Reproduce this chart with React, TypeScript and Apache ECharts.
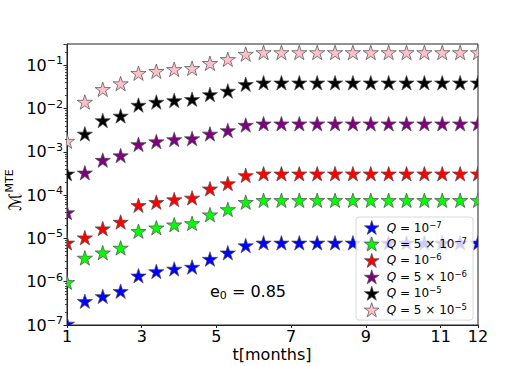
import React, { useEffect, useRef } from "react";
import * as echarts from "echarts";

// ---- data ----
const months = [
  1, 1.478, 1.957, 2.435, 2.913, 3.391, 3.87, 4.348, 4.826, 5.304, 5.783, 6.261,
  6.739, 7.217, 7.696, 8.174, 8.652, 9.13, 9.609, 10.087, 10.565, 11.043, 11.522, 12,
];

const q1e7 = [
  1.02e-7, 3.4e-7, 4.4e-7, 5.8e-7, 1.32e-6, 1.66e-6, 1.9e-6, 2.1e-6, 3.2e-6, 4.5e-6, 6.6e-6, 7.6e-6,
  7.6e-6, 7.6e-6, 7.6e-6, 7.6e-6, 7.6e-6, 7.6e-6, 7.6e-6, 7.6e-6, 7.6e-6, 7.6e-6, 7.6e-6, 7.6e-6,
];
const q5e7 = [
  9.3e-7, 3.4e-6, 4.5e-6, 5.8e-6, 1.41e-5, 1.7e-5, 2.0e-5, 2.14e-5, 3.4e-5, 4.5e-5, 6.6e-5, 7.3e-5,
  7.3e-5, 7.3e-5, 7.3e-5, 7.3e-5, 7.3e-5, 7.3e-5, 7.3e-5, 7.3e-5, 7.3e-5, 7.3e-5, 7.3e-5, 7.3e-5,
];
const q1e6 = [
  7.6e-6, 1.0e-5, 1.62e-5, 2.3e-5, 5.6e-5, 6.6e-5, 7.6e-5, 8.3e-5, 1.35e-4, 1.78e-4, 2.75e-4, 3.0e-4,
  3.0e-4, 3.0e-4, 3.0e-4, 3.0e-4, 3.0e-4, 3.0e-4, 3.0e-4, 3.0e-4, 3.0e-4, 3.0e-4, 3.0e-4, 3.0e-4,
];
const q5e6 = [
  3.8e-5, 3.16e-4, 6.2e-4, 7.9e-4, 1.43e-3, 1.66e-3, 1.86e-3, 1.95e-3, 2.5e-3, 3.0e-3, 4.0e-3, 4.3e-3,
  4.3e-3, 4.3e-3, 4.3e-3, 4.3e-3, 4.3e-3, 4.3e-3, 4.3e-3, 4.3e-3, 4.3e-3, 4.3e-3, 4.3e-3, 4.3e-3,
];
const q1e5 = [
  3.0e-4, 2.5e-3, 5.1e-3, 6.5e-3, 1.16e-2, 1.36e-2, 1.48e-2, 1.58e-2, 2.04e-2, 2.45e-2, 3.5e-2, 3.8e-2,
  3.8e-2, 3.8e-2, 3.8e-2, 3.8e-2, 3.8e-2, 3.8e-2, 3.8e-2, 3.8e-2, 3.8e-2, 3.8e-2, 3.8e-2, 3.8e-2,
];
const q5e5 = [
  1.7e-3, 1.36e-2, 2.68e-2, 3.63e-2, 6.3e-2, 7.0e-2, 7.76e-2, 8.2e-2, 0.107, 0.132, 0.174, 0.19,
  0.19, 0.19, 0.19, 0.19, 0.19, 0.19, 0.19, 0.19, 0.19, 0.19, 0.19, 0.19,
];

const seriesValues = [q1e7, q5e7, q1e6, q5e6, q1e5, q5e5];
const seriesNames = ["Q=1e-7", "Q=5e-7", "Q=1e-6", "Q=5e-6", "Q=1e-5", "Q=5e-5"];
const qMantissa = ["", "5", "", "5", "", "5"];
const qExponent = ["−7", "−7", "−6", "−6", "−5", "−5"];
const seriesColors = ["#0000ff", "#00ff00", "#ff0000", "#800080", "#000000", "#ffc0cb"];

const xTickLabels = [1, 3, 5, 7, 9, 11, 12];
const thresholdValue = 1e-3;
const annotation = { base: "e", sub: "0", rest: " = 0.85" };
const yTitle = { base: "ℳ", sup: "MTE" };
const xTitle = "t[months]";

// ---- star geometry ----
const STAR_R = 8;
const INNER = 0.382;
function starPoints(cx: number, cy: number, r: number): number[][] {
  const pts: number[][] = [];
  for (let k = 0; k < 10; k++) {
    const a = -Math.PI / 2 + (k * Math.PI) / 5;
    const rr = k % 2 === 0 ? r : r * INNER;
    pts.push([cx + rr * Math.cos(a), cy + rr * Math.sin(a)]);
  }
  return pts;
}
const starIconPath =
  "path://" +
  starPoints(10, 10, 10)
    .map((p, i) => (i === 0 ? "M" : "L") + p[0].toFixed(3) + " " + p[1].toFixed(3))
    .join(" ") +
  " Z";

export default function App() {
  const ref = useRef<HTMLDivElement>(null);

  useEffect(() => {
    if (!ref.current) return;
    const chart = echarts.init(ref.current, undefined, { renderer: "svg" });

    const series: any[] = seriesValues.map((vals, si) => ({
      name: seriesNames[si],
      type: "custom",
      clip: true,
      z: 2,
      itemStyle: { color: seriesColors[si] },
      encode: { x: 0, y: 1 },
      data: vals.map((v, i) => [months[i], v]),
      renderItem: (params: any, api: any) => {
        const p = api.coord([api.value(0), api.value(1)]);
        return {
          type: "polygon",
          shape: { points: starPoints(p[0], p[1], STAR_R) },
          style: { fill: seriesColors[si], stroke: "#4a4a4a", lineWidth: 0.7 },
        };
      },
      ...(si === 0
        ? {
            markLine: {
              silent: true,
              symbol: "none",
              label: { show: false },
              lineStyle: { color: "#555", width: 0.8, type: [2, 1] },
              data: [{ yAxis: thresholdValue }],
            },
          }
        : {}),
    }));

    const option: any = {
      animation: false,
      textStyle: { fontFamily: "DejaVu Sans" },
      grid: {
        left: 67,
        right: 54,
        top: 44,
        bottom: 41,
        containLabel: false,
        outerBoundsMode: "none",
        show: true,
        borderColor: "#222",
        borderWidth: 1,
      },
      xAxis: {
        type: "value",
        min: 1,
        max: 12,
        interval: 2,
        axisLine: { show: true, lineStyle: { color: "#222", width: 1 } },
        axisTick: { show: true, length: 3, lineStyle: { color: "#222" } },
        axisLabel: {
          fontSize: 16,
          lineHeight: 16,
          color: "#000",
          margin: 3,
          formatter: (v: number) =>
            xTickLabels.some((t) => Math.abs(t - v) < 1e-6) ? String(v) : "",
        },
        splitLine: { show: false },
      },
      yAxis: {
        type: "log",
        logBase: 10,
        min: 1e-7,
        max: 0.31,
        axisLine: { show: true, lineStyle: { color: "#222", width: 1 } },
        axisTick: { show: true, length: 3.5, lineStyle: { color: "#222" } },
        minorTick: { show: true, splitNumber: 9, length: 2, lineStyle: { color: "#444" } },
        axisLabel: {
          color: "#000",
          margin: 4,
          formatter: (v: number) => {
            const l = Math.log10(v);
            const e = Math.round(l);
            if (Math.abs(l - e) > 1e-6) return "";
            return "{b|10}{s|−" + -e + "}";
          },
          rich: {
            b: { fontSize: 16, lineHeight: 20, color: "#000", fontFamily: "DejaVu Sans" },
            s: {
              fontSize: 11,
              lineHeight: 12,
              verticalAlign: "top",
              color: "#000",
              fontFamily: "DejaVu Sans",
            },
          },
        },
        splitLine: { show: false },
      },
      legend: {
        orient: "vertical",
        right: 59,
        top: 217,
        z: 10,
        padding: [3, 6, 3, 8],
        itemGap: 1.6,
        itemWidth: 20,
        itemHeight: 14,
        backgroundColor: "rgba(255,255,255,0.8)",
        borderColor: "#d8d8d8",
        borderWidth: 1,
        borderRadius: 3,
        data: seriesNames.map((n, i) => ({
          name: n,
          icon: starIconPath,
          itemStyle: { color: seriesColors[i], borderColor: "#4a4a4a", borderWidth: 0.7 },
        })),
        formatter: (name: string) => {
          const i = seriesNames.indexOf(name);
          const m = qMantissa[i] ? qMantissa[i] + " × 10" : "10";
          return "{i|Q}{n| = " + m + "}{s|" + qExponent[i] + "}";
        },
        textStyle: {
          color: "#000",
          rich: {
            i: { fontSize: 12, fontStyle: "italic", lineHeight: 15, fontFamily: "DejaVu Sans", color: "#000" },
            n: { fontSize: 12, lineHeight: 15, fontFamily: "DejaVu Sans", color: "#000" },
            s: {
              fontSize: 8.5,
              lineHeight: 9,
              verticalAlign: "top",
              fontFamily: "DejaVu Sans",
              color: "#000",
            },
          },
        },
      },
      graphic: [
        {
          type: "text",
          x: 248,
          y: 291,
          z: 5,
          style: {
            text: "{b|" + annotation.base + "}{u|" + annotation.sub + "}{b|" + annotation.rest + "}",
            align: "center",
            verticalAlign: "middle",
            rich: {
              b: { fontSize: 16, lineHeight: 20, fontFamily: "DejaVu Sans", fill: "#000" },
              u: {
                fontSize: 11,
                lineHeight: 12,
                verticalAlign: "bottom",
                fontFamily: "DejaVu Sans",
                fill: "#000",
              },
            },
          },
        },
        {
          type: "text",
          x: 272,
          y: 354,
          z: 5,
          style: {
            text: xTitle,
            align: "center",
            verticalAlign: "middle",
            fontSize: 16,
            fontFamily: "DejaVu Sans",
            fill: "#000",
          },
        },
        {
          type: "text",
          x: 15,
          y: 190,
          rotation: Math.PI / 2,
          z: 5,
          style: {
            text: "{m|" + yTitle.base + "}{s|" + yTitle.sup + "}",
            align: "center",
            verticalAlign: "middle",
            rich: {
              m: { fontSize: 17, lineHeight: 22, fontFamily: "DejaVu Sans", fill: "#000" },
              s: {
                fontSize: 11,
                lineHeight: 12,
                verticalAlign: "top",
                fontFamily: "DejaVu Sans",
                fill: "#000",
              },
            },
          },
        },
      ],
      series,
    };

    chart.setOption(option);
    return () => chart.dispose();
  }, []);

  return (
    <div
      ref={ref}
      style={{ position: "absolute", left: 0, top: 0, width: 532, height: 366 }}
    />
  );
}
